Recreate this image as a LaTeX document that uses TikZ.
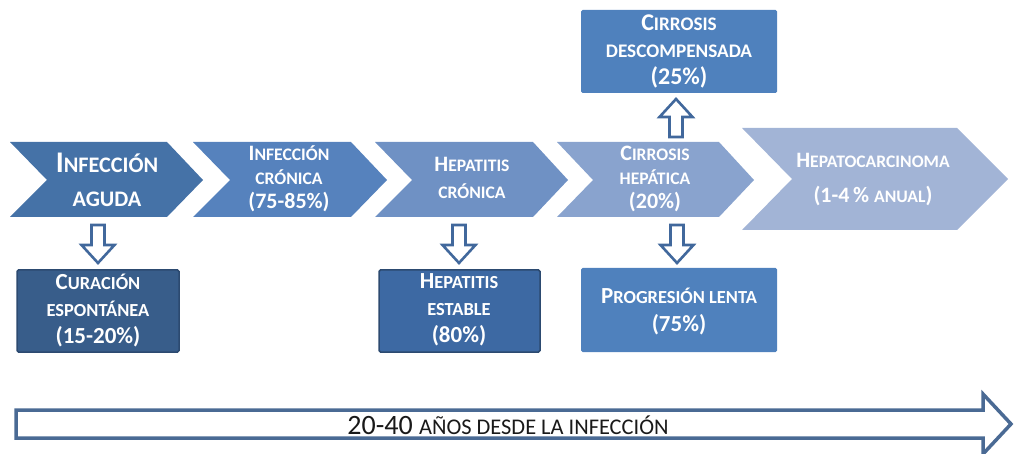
\documentclass[tikz,border=0pt]{standalone}
\usepackage{fontspec}
\setmainfont{Carlito}
\makeatletter
\newcommand\sm[1]{{\fontsize{\fpeval{0.8*\f@size}}{\f@baselineskip}\selectfont #1}}
\newcommand\smA[1]{{\fontsize{\fpeval{0.74*\f@size}}{\f@baselineskip}\selectfont #1}}
\makeatother
\definecolor{chA}{HTML}{4572A7}
\definecolor{chB}{HTML}{5682BD}
\definecolor{chC}{HTML}{6F91C4}
\definecolor{chD}{HTML}{89A3CE}
\definecolor{chE}{HTML}{A2B4D6}
\definecolor{bxA}{HTML}{385D8A}
\definecolor{bxB}{HTML}{3D69A3}
\definecolor{bxC}{HTML}{4F81BD}
\definecolor{bordA}{HTML}{2C4A70}
\definecolor{arrc}{HTML}{41689C}
\definecolor{bigarr}{HTML}{4A6A94}
\tikzset{
  x=1pt, y=-1pt,
  wt/.style={text=white, align=center, inner sep=0pt},
  boxst/.style={rounded corners=1.5pt, line width=1.5pt},
  arrowline/.style={draw=arrc, line width=2.6pt, fill=white, line join=miter},
  hollowdown/.pic={\draw[arrowline] (-6.5,0) -- (6.5,0) -- (6.5,20) -- (16.5,20) -- (0,38) -- (-16.5,20) -- (-6.5,20) -- cycle;},
}
\begin{document}
\begin{tikzpicture}
\useasboundingbox (0,0) rectangle (1014,454);
% chevrons
\fill[chA] (10,142) -- (167,142) -- (203,180) -- (167,217) -- (10,217) -- (47,180) -- cycle;
\fill[chB] (193,142) -- (351,142) -- (387,180) -- (351,217) -- (193,217) -- (230,180) -- cycle;
\fill[chC] (375,142) -- (533,142) -- (568,180) -- (533,217) -- (375,217) -- (412,180) -- cycle;
\fill[chD] (557,142) -- (719,142) -- (754,180) -- (719,217) -- (557,217) -- (593,180) -- cycle;
\fill[chE] (742,128) -- (957,128) -- (1008,179) -- (957,230) -- (742,230) -- (792,179) -- cycle;
% chevron texts
\node[wt, font=\fontsize{30}{34}\selectfont\bfseries] (c1) at (107,180) {I\smA{NFECCIÓN}\\\smA{AGUDA}};
\node[wt, font=\fontsize{22}{24}\selectfont\bfseries] (c2) at (289,179) {I\sm{NFECCIÓN}\\\sm{CRÓNICA}\\(75-85\%)};
\node[wt, font=\fontsize{22}{27}\selectfont\bfseries] (c3) at (472,178) {H\sm{EPATITIS}\\\sm{CRÓNICA}};
\node[wt, font=\fontsize{22}{24}\selectfont\bfseries] (c4) at (655,179) {C\sm{IRROSIS}\\\sm{HEPÁTICA}\\(20\%)};
\node[wt, font=\fontsize{22}{35}\selectfont\bfseries] (c5) at (873,180) {H\sm{EPATOCARCINOMA}\\(1-4\,\% \sm{ANUAL})};
% boxes
\draw[boxst, fill=bxA, draw=bordA] (17,270) rectangle (179,352);
\node[wt, font=\fontsize{23}{27}\selectfont\bfseries] (b1) at (98,311) {C\sm{URACIÓN}\\\sm{ESPONTÁNEA}\\(15-20\%)};
\draw[boxst, fill=bxB, draw=bordA] (379,270) rectangle (540,352);
\node[wt, font=\fontsize{23}{27}\selectfont\bfseries] (b2) at (459,310) {H\sm{EPATITIS}\\\sm{ESTABLE}\\(80\%)};
\draw[rounded corners=1.5pt, fill=bxC, draw=none] (581,268) rectangle (777,352);
\node[wt, font=\fontsize{23}{28}\selectfont\bfseries] (b3) at (679,312) {P\sm{ROGRESIÓN LENTA}\\(75\%)};
\draw[rounded corners=1.5pt, fill=bxC, draw=none] (581,10) rectangle (777,93);
\node[wt, font=\fontsize{24}{27}\selectfont\bfseries] (b4) at (679,51) {C\sm{IRROSIS}\\\sm{DESCOMPENSADA}\\(25\%)};
% block arrows
\pic at (98,225) {hollowdown};
\pic at (459,225) {hollowdown};
\pic at (677,225) {hollowdown};
\pic[rotate=180] at (676,137) {hollowdown};
% time arrow
\draw[draw=bigarr, line width=3.5pt, fill=white, line join=miter] (16,410) -- (983,410) -- (983,394) -- (1011,424) -- (983,454) -- (983,438) -- (16,438) -- cycle;
\node[inner sep=0pt, text=black!90, font=\fontsize{28}{30}\selectfont] (t) at (508,425) {20-40 \sm{AÑOS DESDE LA INFECCIÓN}};
\end{tikzpicture}
\end{document}
